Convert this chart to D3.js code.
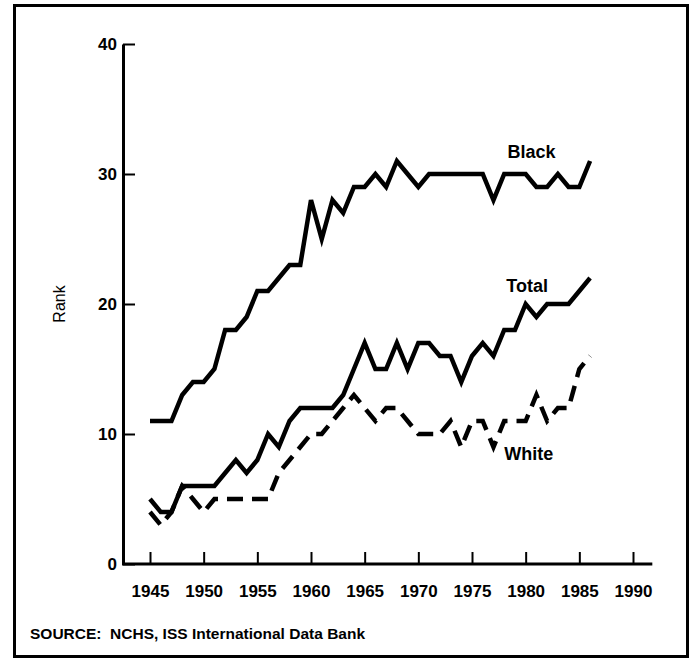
<!DOCTYPE html>
<html>
<head>
<meta charset="utf-8">
<script src="https://cdn.jsdelivr.net/npm/d3@7"></script>
<style>
  body { margin: 0; background: #fff; }
  svg text { font-family: "Liberation Sans", Arial, sans-serif; fill: #000; }
</style>
</head>
<body>
<svg id="chart" width="697" height="663"></svg>
<script>
// ranks, one value per year 1945..1986
const years = d3.range(1945, 1987);
const black = [11, 11, 11, 13, 14, 14, 15, 18, 18, 19, 21, 21, 22, 23, 23, 28, 25, 28, 27, 29, 29,
    30, 29, 31, 30, 29, 30, 30, 30, 30, 30, 30, 28, 30, 30, 30, 29, 29, 30, 29, 29, 31];
const total = [5, 4, 4, 6, 6, 6, 6, 7, 8, 7, 8, 10, 9, 11, 12, 12, 12, 12, 13, 15, 17,
    15, 15, 17, 15, 17, 17, 16, 16, 14, 16, 17, 16, 18, 18, 20, 19, 20, 20, 20, 21, 22];
const white = [4, 3, 4, 6, 5, 4, 5, 5, 5, 5, 5, 5, 7, 8, 9, 10, 10, 11, 12, 13, 12,
    11, 12, 12, 11, 10, 10, 10, 11, 9, 11, 11, 9, 11, 11, 11, 13, 11, 12, 12, 15, 16];
const yTicks = [0, 10, 20, 30, 40];
const xTicks = d3.range(1945, 1991, 5);
const labels = [
    { name: "Black", year: 1978.3, value: 31.2 },
    { name: "Total", year: 1978.2, value: 20.9 },
    { name: "White", year: 1978.0, value: 8.0 }
];

const svg = d3.select("#chart");

// outer frame
svg.append("rect")
    .attr("x", 14.5).attr("y", 5.5)
    .attr("width", 673).attr("height", 651)
    .attr("fill", "none")
    .attr("stroke", "#000")
    .attr("stroke-width", 3);

const x = d3.scaleLinear().domain([1945, 1990]).range([150, 633]);
const y = d3.scaleLinear().domain([0, 40]).range([564, 44]);
const x0 = 123;

const yAxis = svg.append("g")
    .attr("transform", `translate(${x0},0)`)
    .call(d3.axisLeft(y).tickValues(yTicks).tickSizeInner(-12).tickSizeOuter(0).tickPadding(6));
yAxis.select(".domain").attr("stroke-width", 3);
yAxis.selectAll(".tick line").attr("stroke-width", 2);
yAxis.selectAll(".tick text").style("font-size", "17px").style("font-weight", "bold");

const xAxis = svg.append("g")
    .attr("transform", `translate(0,${y(0)})`)
    .call(d3.axisBottom(x).tickValues(xTicks).tickFormat(d3.format("d"))
        .tickSizeInner(-12).tickSizeOuter(0).tickPadding(21));
xAxis.select(".domain").remove();
xAxis.selectAll(".tick line").attr("stroke-width", 2);
xAxis.selectAll(".tick text").style("font-size", "17px").style("font-weight", "bold");
xAxis.append("line")
    .attr("x1", x0 - 1).attr("x2", x(1991.8))
    .attr("stroke", "#000").attr("stroke-width", 3);

svg.append("text")
    .attr("transform", `translate(65,${y(20)}) rotate(-90)`)
    .attr("text-anchor", "middle")
    .style("font-size", "16px")
    .text("Rank");

const line = d3.line()
    .x((d, i) => x(years[i]))
    .y(d => y(d));

const series = [
    { values: black, dash: null },
    { values: total, dash: null },
    { values: white, dash: "16,9" }
];

svg.selectAll(".series")
    .data(series)
    .join("path")
    .attr("class", "series")
    .attr("d", d => line(d.values))
    .attr("fill", "none")
    .attr("stroke", "#000")
    .attr("stroke-width", 4.5)
    .attr("stroke-linejoin", "miter")
    .attr("stroke-dasharray", d => d.dash);

svg.selectAll(".label")
    .data(labels)
    .join("text")
    .attr("class", "label")
    .attr("x", d => x(d.year))
    .attr("y", d => y(d.value))
    .style("font-size", "18px")
    .style("font-weight", "bold")
    .text(d => d.name);

svg.append("text")
    .attr("x", 30).attr("y", 639)
    .attr("xml:space", "preserve")
    .style("white-space", "pre")
    .style("font-size", "15.5px")
    .style("font-weight", "bold")
    .text("SOURCE:  NCHS, ISS International Data Bank");
</script>
</body>
</html>
